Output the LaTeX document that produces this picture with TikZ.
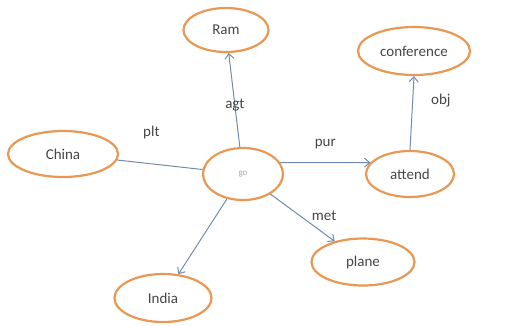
\documentclass[tikz,border=0pt]{standalone}
\usepackage{fontspec}
\setmainfont{Carlito}
\usetikzlibrary{shapes.geometric,arrows.meta}

\definecolor{ringorange}{RGB}{232,152,82}
\definecolor{linkblue}{RGB}{112,138,176}
\definecolor{wordgray}{RGB}{70,70,70}

\tikzset{
  concept/.style={ellipse, draw=ringorange, line width=2.2pt, inner sep=0pt,
    text=wordgray, font=\fontsize{15}{17}\selectfont},
  relation/.style={draw=linkblue, line width=1pt},
  rel/.style={font=\fontsize{15}{17}\selectfont, text=wordgray, inner sep=1pt}
}

\begin{document}
\begin{tikzpicture}[x=1pt, y=-1pt, >={Straight Barb[length=5pt,width=9pt]}]
  \useasboundingbox (0,0) rectangle (510,325);

  % Concepts
  \node[concept, minimum width=80pt, minimum height=52pt,
        text=gray!70, font=\fontsize{9}{11}\selectfont] (go) at (243,174) {go};
  \node[concept, minimum width=85pt, minimum height=44pt] (ram) at (226,30) {Ram};
  \node[concept, minimum width=112pt, minimum height=48pt] (conference) at (414,51) {conference};
  \node[concept, minimum width=110pt, minimum height=46pt] (china) at (63,154) {China};
  \node[concept, minimum width=88pt, minimum height=46pt] (attend) at (410,174) {attend};
  \node[concept, minimum width=103pt, minimum height=47pt] (plane) at (363,262) {plane};
  \node[concept, minimum width=97pt, minimum height=48pt] (india) at (163,298) {India};

  % Relations
  \draw[relation, ->] (go) -- (ram) node[rel, pos=0.45] (agt) {agt};
  \draw[relation] (go) -- (china) node[rel, pos=0.6, above=23pt] (plt) {plt};
  \draw[relation, ->] (go.17) -- (attend.164) node[rel, midway, above=12pt] (pur) {pur};
  \draw[relation, ->] (attend.north) -- (conference.south) node[rel, pos=0.67, right=17pt] (obj) {obj};
  \draw[relation, ->] (go) -- (plane) node[rel, pos=0.45, right=11pt] (met) {met};
  \draw[relation, ->] (go) -- (india);
\end{tikzpicture}
\end{document}
